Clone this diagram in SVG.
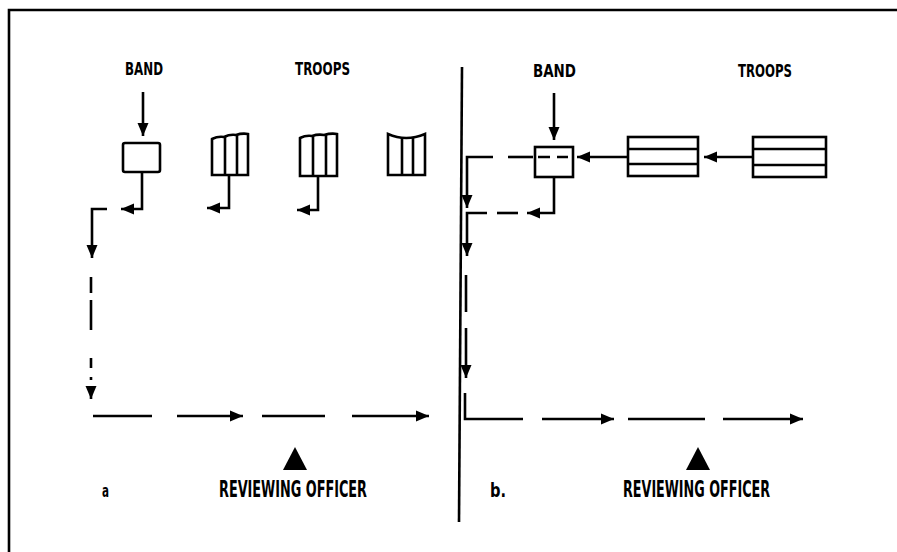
<svg xmlns="http://www.w3.org/2000/svg" width="897" height="552" viewBox="0 0 897 552">
<defs>
<marker id="ah" markerUnits="userSpaceOnUse" markerWidth="14" markerHeight="12" viewBox="0 0 14 12" refX="13" refY="6" orient="auto">
<path d="M0,0.5 L13,6 L0,11.5 Z" fill="#000"/>
</marker>
<style>
.ln{fill:none;stroke:#000;stroke-width:2.6;stroke-linecap:butt;stroke-linejoin:miter}
.bx{fill:#fff;stroke:#000;stroke-width:2.6}
.tx{font-family:"Liberation Sans Narrow","DejaVu Sans Condensed","Liberation Sans",sans-serif;font-weight:bold;fill:#000}
</style>
</defs>
<rect width="897" height="552" fill="#fff"/>
<g id="frame">
<path class="ln" d="M9,552 V10 H897" stroke-width="3"/>
<path class="ln" d="M462,67 L459,522" stroke-width="2.6"/>
</g>
<g id="labels">
<text class="tx" x="125" y="75" font-size="17" textLength="38" lengthAdjust="spacingAndGlyphs">BAND</text>
<text class="tx" x="295" y="75" font-size="17" textLength="55" lengthAdjust="spacingAndGlyphs">TROOPS</text>
<text class="tx" x="533" y="77" font-size="17" textLength="43" lengthAdjust="spacingAndGlyphs">BAND</text>
<text class="tx" x="738" y="77" font-size="17" textLength="54" lengthAdjust="spacingAndGlyphs">TROOPS</text>
<text class="tx" x="102" y="497" font-size="17" textLength="7" lengthAdjust="spacingAndGlyphs">a</text>
<text class="tx" x="490" y="497" font-size="20" textLength="16" lengthAdjust="spacingAndGlyphs">b.</text>
</g>
<g id="band-a">
<rect class="bx" x="123" y="143" width="37" height="29" rx="2"/>
</g>
<g id="troops-a1">
<path class="bx" d="M212,175 V139 Q218,136 224,137 Q230,134 236,135 Q242,133 248,134 V175 Z"/>
<path class="ln" d="M225,137 V175 M237,135 V175"/>
</g>
<g id="troops-a2">
<path class="bx" d="M300,176 V138 Q306,135 312,136 Q318,134 324,135 Q331,133 337,134 V176 Z"/>
<path class="ln" d="M313,136 V176 M326,135 V176"/>
</g>
<g id="troops-a3">
<path class="bx" d="M388,175 V134 Q406,142 425,134 V175 Z"/>
<path class="ln" d="M402,138 V175 M413,138 V175"/>
</g>
<g id="officer-a">
<path d="M295,447 L307,470 L283,470 Z" fill="#000"/>
<text class="tx" x="219" y="497" font-size="23" textLength="148" lengthAdjust="spacingAndGlyphs">REVIEWING OFFICER</text>
</g>
<g id="band-b">
<rect class="bx" x="535" y="147" width="38" height="30"/>
<path class="ln" d="M538,157 H550 M557,157 H568"/>
</g>
<g id="troops-b1">
<rect class="bx" x="628" y="137" width="70" height="39"/>
<path class="ln" d="M628,149 H698 M628,164 H698"/>
</g>
<g id="troops-b2">
<rect class="bx" x="753" y="137" width="73" height="40"/>
<path class="ln" d="M753,149 H826 M753,165 H826"/>
</g>
<g id="officer-b">
<path d="M698,447 L710,470 L686,470 Z" fill="#000"/>
<text class="tx" x="623" y="497" font-size="23" textLength="147" lengthAdjust="spacingAndGlyphs">REVIEWING OFFICER</text>
</g>
<g id="connectors">
<path class="ln" d="M143,92 V136" marker-end="url(#ah)"/>
<path class="ln" d="M142,172 V209 H121" marker-end="url(#ah)"/>
<path class="ln" d="M229,176 V208 H207" marker-end="url(#ah)"/>
<path class="ln" d="M318,176 V210 H297" marker-end="url(#ah)"/>
<path class="ln" d="M107,209 H92 V258" marker-end="url(#ah)"/>
<path class="ln" d="M91,277 V293 M91,300 V330 M91,358 V368 M91,377 V380"/>
<path class="ln" d="M91,386 V399" marker-end="url(#ah)"/>
<path class="ln" d="M93,416 H152"/>
<path class="ln" d="M177,416 H243" marker-end="url(#ah)"/>
<path class="ln" d="M262,416 H325"/>
<path class="ln" d="M352,416 H429" marker-end="url(#ah)"/>
<path class="ln" d="M554,93 V140" marker-end="url(#ah)"/>
<path class="ln" d="M628,157 H577" marker-end="url(#ah)"/>
<path class="ln" d="M753,157 H704" marker-end="url(#ah)"/>
<path class="ln" d="M508,157 H533"/>
<path class="ln" d="M493,157 H467 V208" marker-end="url(#ah)"/>
<path class="ln" d="M554,177 V213 H527" marker-end="url(#ah)"/>
<path class="ln" d="M497,213 H518"/>
<path class="ln" d="M487,213 H467 V256" marker-end="url(#ah)"/>
<path class="ln" d="M466,275 V312"/>
<path class="ln" d="M466,328 V378" marker-end="url(#ah)"/>
<path class="ln" d="M465,393 V419 H523"/>
<path class="ln" d="M542,419 H614" marker-end="url(#ah)"/>
<path class="ln" d="M628,419 H705"/>
<path class="ln" d="M723,419 H803" marker-end="url(#ah)"/>
</g>
</svg>
